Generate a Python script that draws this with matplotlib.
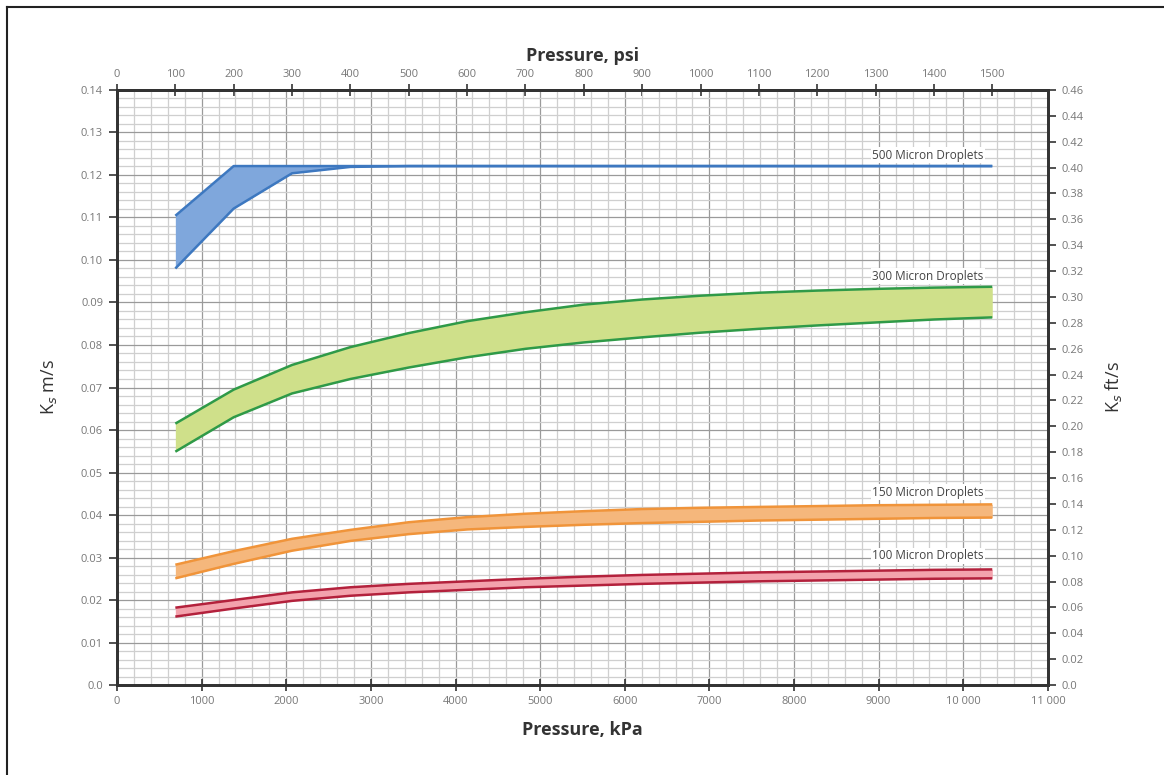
import numpy as np
import matplotlib.pyplot as plt
from matplotlib.lines import Line2D
from matplotlib.ticker import MultipleLocator, FixedLocator

plt.rcParams['font.family'] = ['Open Sans', 'DejaVu Sans']

# pressure points, psi (converted to kPa for the main axis)
psi = [100, 200, 300, 400, 500, 600, 700, 800, 900, 1000, 1100, 1200, 1300, 1400, 1500]
KPA_PER_PSI = 6.894757

# Ks bands, m/s (upper / lower edge)
ks500_hi = [0.1104, 0.1221, 0.1221, 0.1221, 0.1221, 0.1221, 0.1221, 0.1221, 0.1221, 0.1221, 0.1221, 0.1221, 0.1221, 0.1221, 0.1221]
ks500_lo = [0.0980, 0.1121, 0.1204, 0.1219, 0.1221, 0.1221, 0.1221, 0.1221, 0.1221, 0.1221, 0.1221, 0.1221, 0.1221, 0.1221, 0.1221]
ks300_hi = [0.0615, 0.0695, 0.0753, 0.0795, 0.0828, 0.0856, 0.0877, 0.0895, 0.0907, 0.0916, 0.0923, 0.0928, 0.0932, 0.0935, 0.0937]
ks300_lo = [0.0549, 0.0630, 0.0686, 0.0720, 0.0747, 0.0771, 0.0791, 0.0806, 0.0818, 0.0829, 0.0838, 0.0846, 0.0853, 0.0860, 0.0865]
ks150_hi = [0.0283, 0.0315, 0.0344, 0.0365, 0.0383, 0.0395, 0.0403, 0.0409, 0.0414, 0.0417, 0.0419, 0.0421, 0.0423, 0.0424, 0.0425]
ks150_lo = [0.0251, 0.0285, 0.0316, 0.0339, 0.0355, 0.0366, 0.0372, 0.0377, 0.0381, 0.0384, 0.0387, 0.0389, 0.0391, 0.0393, 0.0394]
ks100_hi = [0.0182, 0.0200, 0.0218, 0.0230, 0.0238, 0.0244, 0.0250, 0.0255, 0.0259, 0.0262, 0.0265, 0.0267, 0.0269, 0.0271, 0.0272]
ks100_lo = [0.0161, 0.0180, 0.0198, 0.0210, 0.0218, 0.0224, 0.0230, 0.0234, 0.0238, 0.0241, 0.0244, 0.0246, 0.0248, 0.0250, 0.0251]

band_names = ['500 Micron Droplets', '300 Micron Droplets', '150 Micron Droplets', '100 Micron Droplets']

bottom_ticks = [0, 1000, 2000, 3000, 4000, 5000, 6000, 7000, 8000, 9000, 10000, 11000]
bottom_labels = ['0', '1000', '2000', '3000', '4000', '5000', '6000', '7000', '8000', '9000', '10 000', '11 000']
top_ticks = list(range(0, 1600, 100))
left_ticks = [i / 100 for i in range(15)]
left_labels = ['0.0'] + ['%.2f' % v for v in left_ticks[1:]]
right_ticks = [i / 100 for i in range(0, 47, 2)]
right_labels = ['0.0'] + ['%.2f' % v for v in right_ticks[1:]]

kpa = np.array(psi) * KPA_PER_PSI

fig = plt.figure(figsize=(11.64, 7.75), dpi=100)
ax = fig.add_axes([0.1005, 0.1161, 0.7998, 0.7678])

# grid
ax.set_xlim(0, 11000)
ax.set_ylim(0, 0.14)
ax.xaxis.set_minor_locator(MultipleLocator(200))
ax.yaxis.set_minor_locator(MultipleLocator(0.002))
ax.grid(which='major', color='#9a9a9a', lw=0.9)
ax.grid(which='minor', color='#cfcfcf', lw=0.9)
ax.set_axisbelow(True)

bands = [
    (ks500_hi, ks500_lo, '#3d78c0', '#7fa7dc'),
    (ks300_hi, ks300_lo, '#2f9a48', '#cfe08a'),
    (ks150_hi, ks150_lo, '#f0943a', '#f5b77c'),
    (ks100_hi, ks100_lo, '#b3213c', '#f3a3ad'),
]
for hi, lo, lc, fc in bands:
    ax.fill_between(kpa, lo, hi, color=fc, lw=0, zorder=2)
    ax.plot(kpa, hi, color=lc, lw=1.8, zorder=3, solid_capstyle='butt')
    ax.plot(kpa, lo, color=lc, lw=1.8, zorder=3, solid_capstyle='butt')

label_y = [0.1247, 0.0962, 0.0454, 0.0304]
for name, y in zip(band_names, label_y):
    ax.text(10240, y, name, ha='right', va='center', fontsize=8.5, color='#444444',
            bbox=dict(facecolor='white', edgecolor='none', pad=1.0), zorder=4)

# spines and ticks
for s in ax.spines.values():
    s.set_linewidth(2)
    s.set_color('#333333')
ax.set_xticks(bottom_ticks)
ax.set_xticklabels(bottom_labels)
ax.set_yticks(left_ticks)
ax.set_yticklabels(left_labels)
ax.tick_params(axis='x', which='major', direction='inout', length=8, width=1.2,
               color='#333333', labelsize=8, labelcolor='#777777', pad=4)
ax.tick_params(axis='y', which='major', direction='out', length=6, width=1.2,
               color='#333333', labelsize=8, labelcolor='#777777', pad=4)
ax.tick_params(which='minor', length=0)
ax.set_xlabel('Pressure, kPa', fontsize=13, fontweight='bold', color='#333333', labelpad=10)
ax.set_ylabel('K$_s$ m/s', fontsize=13, color='#333333', labelpad=16)

top = ax.secondary_xaxis('top', functions=(lambda x: x / KPA_PER_PSI, lambda p: p * KPA_PER_PSI))
top.set_xticks(top_ticks)
top.tick_params(direction='inout', length=8, width=1.2, color='#333333',
                labelsize=8, labelcolor='#777777', pad=3)
top.spines['top'].set_linewidth(2)
top.set_xlabel('Pressure, psi', fontsize=13, fontweight='bold', color='#333333', labelpad=6)

right = ax.twinx()
right.set_ylim(0, 0.46)
right.set_yticks(right_ticks)
right.set_yticklabels(right_labels)
right.tick_params(direction='out', length=6, width=1.2, color='#333333',
                  labelsize=8, labelcolor='#777777', pad=4)
for s in right.spines.values():
    s.set_linewidth(2)
    s.set_color('#333333')
right.set_ylabel('K$_s$ ft/s', fontsize=13, color='#333333', labelpad=14)

# outer frame (left and top edges visible)
fig.add_artist(Line2D([0.006, 0.006], [0.0, 0.991], transform=fig.transFigure, color='#222222', lw=1.5))
fig.add_artist(Line2D([0.006, 1.0], [0.991, 0.991], transform=fig.transFigure, color='#222222', lw=1.5))

plt.savefig('out.png', dpi=100)
